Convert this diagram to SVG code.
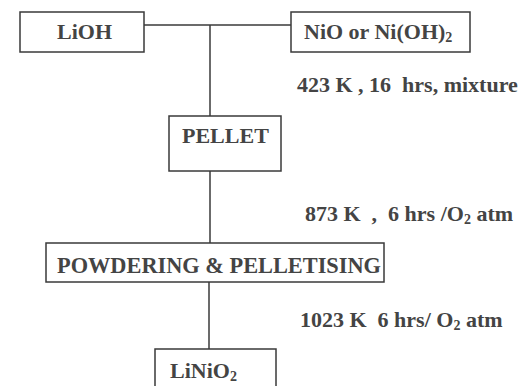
<svg xmlns="http://www.w3.org/2000/svg" width="524" height="386" viewBox="0 0 524 386">
<style>
.box{fill:#fff;stroke:#3a3a3a;stroke-width:1.5}
.t{font-family:"Liberation Serif","Times New Roman",serif;font-weight:bold;font-size:22px;fill:#444}
.sub{font-size:14px}
.c{fill:none;stroke:#3a3a3a;stroke-width:1.5}
</style>
<rect width="524" height="386" fill="#fff"/>
<g id="connectors">
<path class="c" d="M144 25H291"/>
<path class="c" d="M210 25V116"/>
<path class="c" d="M210 171V243"/>
<path class="c" d="M209 282V349"/>
</g>
<g id="lioh"><rect class="box" x="20" y="12" width="124" height="40"/><text class="t" x="57" y="39">LiOH</text></g>
<g id="nio"><rect class="box" x="291" y="12" width="179" height="40"/><text class="t" x="304" y="39">NiO or Ni(OH)<tspan class="sub" dy="3">2</tspan></text></g>
<g id="pellet"><rect class="box" x="169" y="116" width="112" height="55"/><text class="t" x="182" y="143">PELLET</text></g>
<g id="powdering"><rect class="box" x="46" y="243" width="338" height="39"/><text class="t" x="57" y="273" style="font-size:22.5px" textLength="324" lengthAdjust="spacingAndGlyphs">POWDERING &amp; PELLETISING</text></g>
<g id="linio2"><rect class="box" x="155" y="349" width="121" height="45"/><text class="t" x="170" y="378">LiNiO<tspan class="sub" dy="3">2</tspan></text></g>
<g id="labels">
<text class="t" x="297" y="92" xml:space="preserve">423 K , 16  hrs, mixture</text>
<text class="t" x="305" y="221" xml:space="preserve">873 K  ,  6 hrs /O<tspan class="sub" dy="3">2</tspan><tspan dy="-3"> atm</tspan></text>
<text class="t" x="300" y="327" xml:space="preserve">1023 K  6 hrs/ O<tspan class="sub" dy="3">2</tspan><tspan dy="-3"> atm</tspan></text>
</g>
</svg>
